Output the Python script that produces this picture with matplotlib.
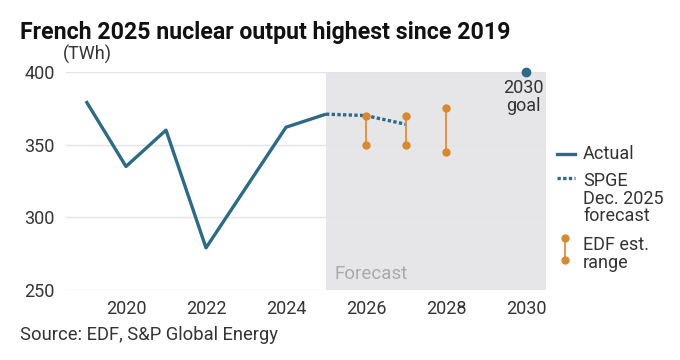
import matplotlib
matplotlib.use("Agg")
import matplotlib.pyplot as plt
from matplotlib.lines import Line2D

plt.rcParams['font.family'] = ['Roboto', 'DejaVu Sans']

# 実績
years_actual = [2019, 2020, 2021, 2022, 2024, 2025]
output_actual = [380, 335, 360, 279, 362, 371]
# SPGE予測
years_spge = [2025, 2026, 2027]
output_spge = [371, 370, 364]
# EDF推定レンジ
years_edf = [2026, 2027, 2028]
edf_low = [350, 350, 345]
edf_high = [370, 370, 375]
# 2030年目標
goal_year = 2030
goal_value = 400

x_ticks = [2020, 2022, 2024, 2026, 2028, 2030]
y_ticks = [250, 300, 350, 400]

TEAL = '#2d6a84'
ORANGE = '#d8892f'
TEXT = '#333333'
FS = 13

fig = plt.figure(figsize=(6.8, 3.6), dpi=100)
ax = fig.add_axes((66 / 680, 1 - 290 / 360, 480 / 680, 218 / 360))

ax.axvspan(2025, 2030.5, color='#e6e6e8', zorder=0, lw=0)
for y in y_ticks:
    ax.axhline(y, color='#e3e3e3', lw=1, zorder=0.5)

ax.plot(years_actual, output_actual, color=TEAL, lw=2.4, solid_capstyle='butt', zorder=3)
ax.plot(years_spge, output_spge, color=TEAL, lw=2.4, linestyle=(0, (1, 0.7)), zorder=3)
for x, lo, hi in zip(years_edf, edf_low, edf_high):
    ax.plot([x, x], [lo, hi], color=ORANGE, lw=1.2, marker='o', ms=5, zorder=4)
ax.plot([goal_year], [goal_value], 'o', color=TEAL, ms=6, clip_on=False, zorder=5)
ax.text(goal_year - 0.07, goal_value - 4.5, '2030\ngoal', ha='center', va='top',
        fontsize=FS, color=TEXT, linespacing=1.0)
ax.text(2025.2, 255, 'Forecast', ha='left', va='bottom', fontsize=13.5, color='#a9a9ab')

ax.set_xlim(2018.5, 2030.5)
ax.set_ylim(250, 400)
ax.set_xticks(x_ticks)
ax.set_yticks(y_ticks)
ax.tick_params(length=0, labelsize=FS, colors=TEXT, pad=7)
ax.tick_params(axis='y', pad=8)
for s in ax.spines.values():
    s.set_visible(False)

ax.text(-0.006, 1.035, '(TWh)', transform=ax.transAxes, fontsize=FS, color=TEXT,
        ha='left', va='bottom')

fig.text(20 / 680, 1 - 32 / 360, 'French 2025 nuclear output highest since 2019',
         fontsize=16.7, fontweight='bold', color='#111111', va='center')
fig.text(20 / 680, 1 - 335 / 360, 'Source: EDF, S&P Global Energy',
         fontsize=13.2, color=TEXT, va='center')

# 凡例
lx0, lx1, tx = 557 / 680, 575 / 680, 583 / 680
fig.add_artist(Line2D([lx0, lx1], [1 - 154 / 360] * 2, color=TEAL, lw=2.4))
fig.text(tx, 1 - 154 / 360, 'Actual', fontsize=FS, color=TEXT, va='center')
fig.add_artist(Line2D([lx0, lx1], [1 - 178 / 360] * 2, color=TEAL, lw=2.4,
                      linestyle=(0, (1, 0.7))))
fig.text(tx, 1 - 172 / 360, 'SPGE\nDec. 2025\nforecast', fontsize=FS, color=TEXT,
         va='top', linespacing=0.98)
lx = 565 / 680
fig.add_artist(Line2D([lx, lx], [1 - 238 / 360, 1 - 260 / 360], color=ORANGE, lw=1.2,
                      marker='o', ms=5))
fig.text(tx, 1 - 236 / 360, 'EDF est.\nrange', fontsize=FS, color=TEXT,
         va='top', linespacing=0.98)

fig.savefig('out.png', dpi=100)
